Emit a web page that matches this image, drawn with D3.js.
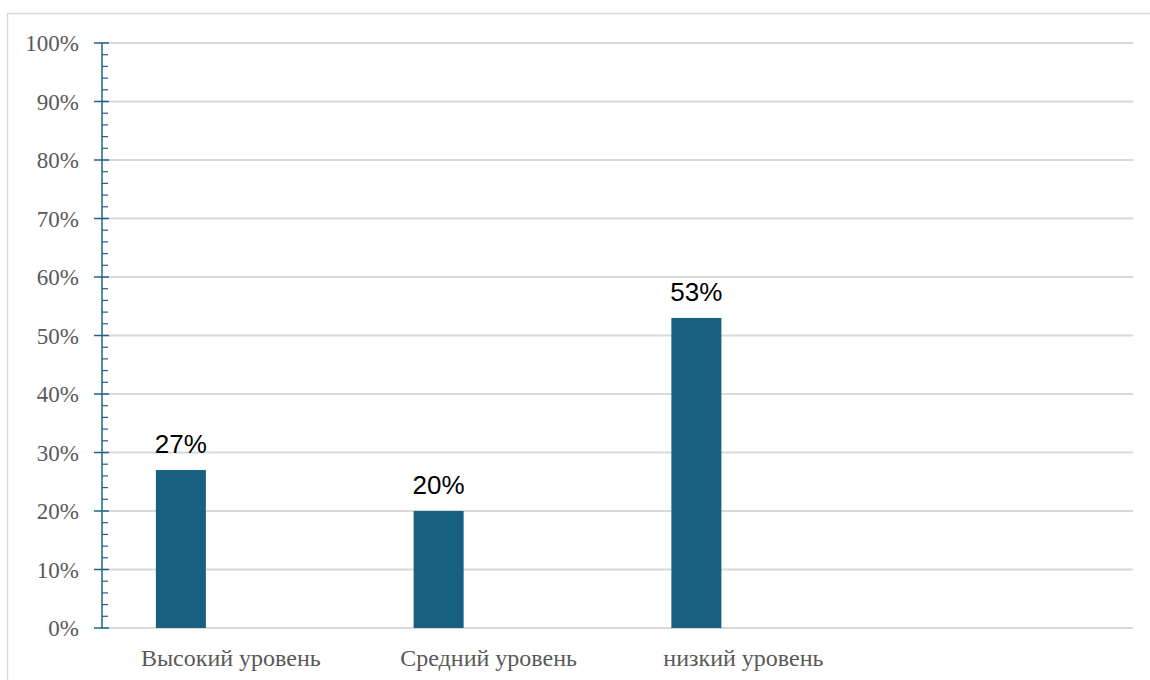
<!DOCTYPE html>
<html><head><meta charset="utf-8">
<script src="https://cdn.jsdelivr.net/npm/d3@7"></script>
<style>body{margin:0;background:#fff}</style>
</head><body>
<svg id="c" width="1150" height="680"></svg>
<script>
const categories = ["Высокий уровень", "Средний уровень", "низкий уровень ", ""];
const values = [27, 20, 53, null];
const seriesSlots = ["s1", "s2", "s3"];
const yTicks = [0,10,20,30,40,50,60,70,80,90,100];

(function(){
const svg = d3.select("#c");
const mL = 102, mR = 1133, mT = 43, mB = 628;

svg.append("rect").attr("x",7.5).attr("y",13.5).attr("width",1160).attr("height",700)
  .attr("fill","none").attr("stroke","#d9d9d9").attr("stroke-width",1.5);

const x = d3.scaleBand().domain(categories.map((d,i)=>i)).range([mL,mR]);
const xs = d3.scaleBand().domain(seriesSlots).range([x.bandwidth()/2-75, x.bandwidth()/2+75]);
const y = d3.scaleLinear().domain([0,100]).range([mB,mT]);

svg.append("g").selectAll("line").data(yTicks).join("line")
  .attr("x1",mL).attr("x2",mR).attr("y1",d=>y(d)).attr("y2",d=>y(d))
  .attr("stroke","#d9d9d9").attr("stroke-width",2);

const data = values.map((v,i)=>({v,i})).filter(d=>d.v!=null);
svg.append("g").selectAll("rect").data(data).join("rect")
  .attr("x",d=>x(d.i)+xs("s1")).attr("width",xs.bandwidth())
  .attr("y",d=>y(d.v)).attr("height",d=>y(0)-y(d.v)).attr("fill","#17607f");

svg.append("g").selectAll("text").data(data).join("text")
  .attr("x",d=>x(d.i)+xs("s1")+xs.bandwidth()/2).attr("y",d=>y(d.v)-17)
  .attr("text-anchor","middle").attr("font-family","Liberation Sans, Arial, sans-serif")
  .attr("font-size",26).attr("fill","#000").text(d=>d.v+"%");

const minor = d3.range(0,101,2).filter(d=>d%10!==0);
const ax = svg.append("g");
ax.append("line").attr("x1",mL).attr("x2",mL).attr("y1",y(0)).attr("y2",y(100))
  .attr("stroke","#1f6384").attr("stroke-width",1.5);
ax.selectAll(".maj").data(yTicks).join("line").attr("class","maj")
  .attr("x1",94).attr("x2",109).attr("y1",d=>y(d)).attr("y2",d=>y(d))
  .attr("stroke","#1f6384").attr("stroke-width",1.5);
ax.selectAll(".min").data(minor).join("line").attr("class","min")
  .attr("x1",mL).attr("x2",108).attr("y1",d=>y(d)).attr("y2",d=>y(d))
  .attr("stroke","#1f6384").attr("stroke-width",1.2);
ax.selectAll("text").data(yTicks).join("text")
  .attr("x",79).attr("y",d=>y(d)+8).attr("text-anchor","end")
  .attr("font-family","Liberation Serif, Times New Roman, serif").attr("font-size",23)
  .attr("fill","#595959").text(d=>d+"%");

svg.append("g").selectAll("text").data(categories.map((c,i)=>({c,i}))).join("text")
  .attr("x",d=>x(d.i)+x.bandwidth()/2).attr("y",666).attr("text-anchor","middle")
  .style("white-space","pre")
  .attr("font-family","Liberation Serif, Times New Roman, serif").attr("font-size",24)
  .attr("fill","#595959").text(d=>d.c);
})();
</script>
</body></html>
